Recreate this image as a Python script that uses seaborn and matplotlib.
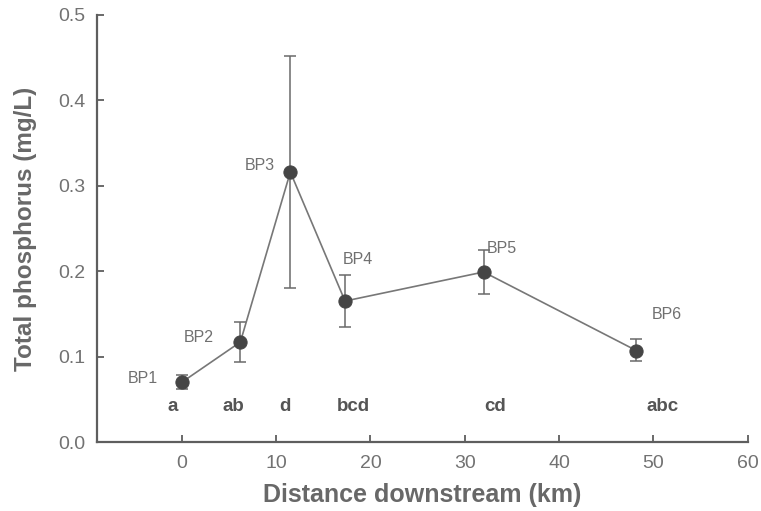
import matplotlib
matplotlib.use("Agg")
import matplotlib.pyplot as plt
import seaborn as sns
import pandas as pd
import numpy as np

# Sampling sites along the river
sites = ["BP1", "BP2", "BP3", "BP4", "BP5", "BP6"]
distance_km = [0.0, 6.2, 11.5, 17.3, 32.0, 48.2]
tp_mean = [0.070, 0.117, 0.316, 0.165, 0.199, 0.107]
tp_upper = [0.079, 0.141, 0.452, 0.195, 0.225, 0.120]
tp_lower = [0.062, 0.094, 0.180, 0.135, 0.173, 0.095]
groups = ["a", "ab", "d", "bcd", "cd", "abc"]

df = pd.DataFrame({"site": sites, "distance": distance_km, "tp": tp_mean,
                   "upper": tp_upper, "lower": tp_lower, "group": groups})

sns.set_theme(style="white")
plt.rcParams["font.family"] = ["Liberation Sans", "DejaVu Sans"]

grey = "#5e5e5e"
fig = plt.figure(figsize=(7.61, 5.11), dpi=100)
ax = fig.add_axes([0.1275, 0.135, 0.855, 0.836])

ax.errorbar(df["distance"], df["tp"],
            yerr=[df["tp"] - df["lower"], df["upper"] - df["tp"]],
            fmt="none", ecolor="#6a6a6a", elinewidth=1.1, capsize=4.5, capthick=1.1, zorder=2)
sns.lineplot(data=df, x="distance", y="tp", ax=ax, color="#777777", linewidth=1.2,
             marker="o", markersize=9.5, markerfacecolor="#454545",
             markeredgecolor="#454545", zorder=3)

# site names, offset from each point (in points)
name_offsets = [(-28, 3), (-30, 3), (-22, 5), (9, 30), (13, 17), (22, 26)]
for (_, r), off in zip(df.iterrows(), name_offsets):
    ax.annotate(r["site"], (r["distance"], r["tp"]), xytext=off,
                textcoords="offset points", ha="center", va="center",
                fontsize=11.5, color="#707070")

# significance groups along the bottom
group_shift = [-1.0, -0.7, -0.6, 0.9, 1.2, 2.8]
for (_, r), dx in zip(df.iterrows(), group_shift):
    ax.text(r["distance"] + dx, 0.041, r["group"], ha="center", va="center",
            fontsize=13.5, fontweight="bold", color="#555555")

ax.set_xlim(-9, 60)
ax.set_ylim(0, 0.5)
ax.set_xticks(np.arange(0, 61, 10))
ax.set_yticks(np.arange(0, 0.51, 0.1))
ax.set_yticklabels([f"{v:.1f}" for v in np.arange(0, 0.51, 0.1)])
ax.tick_params(direction="in", length=5, width=1.3, colors=grey,
               bottom=True, left=True, labelsize=14, labelcolor="#727272")
ax.tick_params(axis="y", pad=8.5)
ax.tick_params(axis="x", pad=9)

for s in ["top", "right"]:
    ax.spines[s].set_visible(False)
for s in ["left", "bottom"]:
    ax.spines[s].set_color(grey)
    ax.spines[s].set_linewidth(1.6)

ax.set_xlabel("Distance downstream (km)", fontsize=18, fontweight="bold",
              color="#686868", labelpad=8)
ax.set_ylabel("Total phosphorus (mg/L)", fontsize=17.5, fontweight="bold",
              color="#686868")
ax.yaxis.set_label_coords(-0.092, 0.5)

fig.savefig("out.png", dpi=100)
